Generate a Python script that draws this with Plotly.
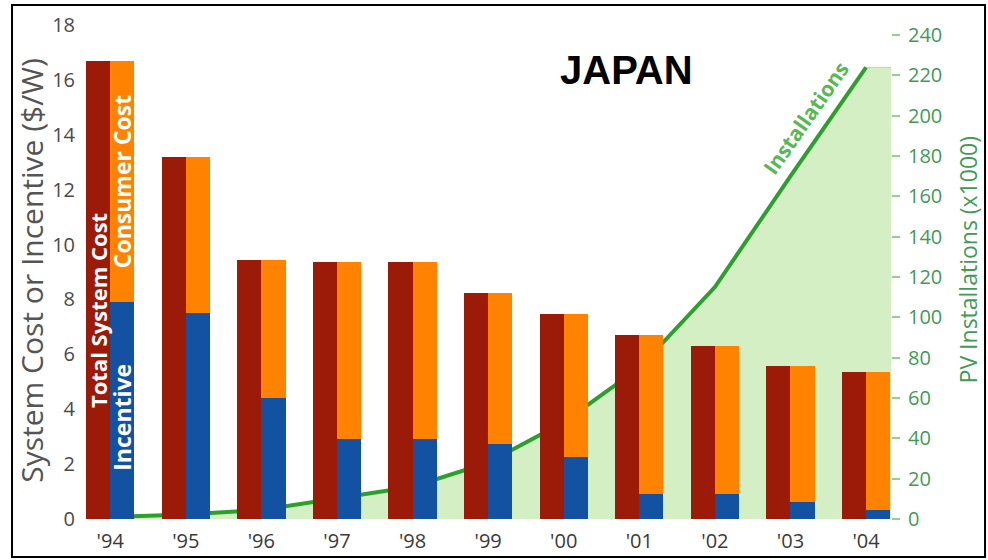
import plotly.graph_objects as go

# ---- data ----
years = ["'94", "'95", "'96", "'97", "'98", "'99", "'00", "'01", "'02", "'03", "'04"]
total_cost = [16.7, 13.2, 9.45, 9.35, 9.37, 8.22, 7.47, 6.70, 6.32, 5.56, 5.35]
incentive = [7.9, 7.5, 4.4, 2.93, 2.93, 2.72, 2.25, 0.91, 0.91, 0.62, 0.33]
installations = [1.0, 2.2, 4.5, 10, 16, 28, 48, 75, 115, 170, 224]  # x1000
left_ticks = [0, 2, 4, 6, 8, 10, 12, 14, 16, 18]
right_ticks = [0, 20, 40, 60, 80, 100, 120, 140, 160, 180, 200, 220, 240]

consumer_cost = [t - i for t, i in zip(total_cost, incentive)]
xpos = list(range(len(years)))

# ---- style ----
RED = "#9b1a08"
ORANGE = "#ff8200"
BLUE = "#1351a2"
GREEN_LINE = "#2ba12b"
GREEN_FILL = "#d3efc3"
GREEN_TEXT = "#3f9b56"
BAR_W = 0.32
X_RANGE = [-0.32, 10.33]
FONT = "Open Sans, DejaVu Sans, sans-serif"

fig = go.Figure()

# installations area (extends to right edge of the plot, flat at the last value)
fill_x = xpos + [X_RANGE[1]]
fill_y = installations + [installations[-1]]
fig.add_trace(go.Scatter(
    x=fill_x, y=fill_y, mode="lines", fill="tozeroy",
    fillcolor=GREEN_FILL, line=dict(color="#c8c8c8", width=1),
    yaxis="y", hoverinfo="skip", showlegend=False))
fig.add_trace(go.Scatter(
    x=xpos, y=installations, mode="lines",
    line=dict(color=GREEN_LINE, width=4),
    yaxis="y", showlegend=False, name="Installations"))

# bars (on the overlaying axis so they are drawn above the line)
fig.add_trace(go.Bar(
    x=xpos, y=total_cost, width=BAR_W, offset=-BAR_W,
    marker=dict(color=RED, line=dict(width=0)),
    yaxis="y2", name="Total System Cost", showlegend=False))
fig.add_trace(go.Bar(
    x=xpos, y=consumer_cost, base=incentive, width=BAR_W, offset=0,
    marker=dict(color=ORANGE, line=dict(width=0)),
    yaxis="y2", name="Consumer Cost", showlegend=False))
fig.add_trace(go.Bar(
    x=xpos, y=incentive, width=BAR_W, offset=0,
    marker=dict(color=BLUE, line=dict(width=0)),
    yaxis="y2", name="Incentive", showlegend=False))

fig.update_layout(
    width=988, height=560,
    margin=dict(l=86, r=97, t=25, b=41, autoexpand=False),
    paper_bgcolor="white", plot_bgcolor="rgba(0,0,0,0)",
    barmode="overlay", bargap=0,
    xaxis=dict(
        range=X_RANGE, tickmode="array", tickvals=xpos, ticktext=years,
        showgrid=False, zeroline=False, showline=False, ticks="",
        tickfont=dict(family=FONT, size=20, color="#3a3a3a"),
        ticklabelstandoff=8, automargin=False,
    ),
    yaxis=dict(
        side="right", range=[0, 245], tickmode="array", tickvals=right_ticks,
        showgrid=False, zeroline=False, showline=False,
        ticks="outside", ticklen=8, tickwidth=2, tickcolor="#93d193",
        tickfont=dict(family=FONT, size=20, color=GREEN_TEXT),
        ticklabelstandoff=4, automargin=False,
    ),
    yaxis2=dict(
        side="left", overlaying="y", range=[0, 18], tickmode="array", tickvals=left_ticks,
        showgrid=False, zeroline=False, showline=False, ticks="",
        tickfont=dict(family=FONT, size=20, color="#4a4a4a"), ticklabelstandoff=10,
        automargin=False,
    ),
    showlegend=False,
)

annotations = [
    dict(text="<b>JAPAN</b>", xref="paper", yref="paper", x=0.671, y=0.909,
         showarrow=False, xanchor="center", yanchor="middle",
         font=dict(family="Liberation Sans, Arial, sans-serif", size=40, color="black")),
    dict(text="System Cost or Incentive ($/W)", xref="paper", yref="paper",
         x=-0.068, y=0.503, textangle=-90, showarrow=False,
         xanchor="center", yanchor="middle",
         font=dict(family=FONT, size=30, color="#555555")),
    dict(text="PV Installations (x1000)", xref="paper", yref="paper",
         x=1.096, y=0.524, textangle=-90, showarrow=False,
         xanchor="center", yanchor="middle",
         font=dict(family=FONT, size=23, color=GREEN_TEXT)),
    dict(text="<b>Total System Cost</b>", xref="x", yref="y2",
         x=-BAR_W / 2, y=7.58, textangle=-90, showarrow=False,
         xanchor="center", yanchor="middle",
         font=dict(family=FONT, size=22, color="white")),
    dict(text="<b>Consumer Cost</b>", xref="x", yref="y2",
         x=BAR_W / 2, y=12.28, textangle=-90, showarrow=False,
         xanchor="center", yanchor="middle",
         font=dict(family=FONT, size=23, color="white")),
    dict(text="<b>Incentive</b>", xref="x", yref="y2",
         x=BAR_W / 2, y=3.7, textangle=-90, showarrow=False,
         xanchor="center", yanchor="middle",
         font=dict(family=FONT, size=23, color="white")),
    dict(text="<b>Installations</b>", xref="x", yref="y",
         x=9.2, y=199, textangle=-55, showarrow=False,
         xanchor="center", yanchor="middle",
         font=dict(family=FONT, size=21, color="#55b955")),
]
fig.update_layout(annotations=annotations)

# outer black frame
fig.add_shape(type="rect", xref="paper", yref="paper",
              x0=-0.0919, x1=1.1168, y0=-0.0769, y1=1.0405,
              line=dict(color="black", width=2), fillcolor="rgba(0,0,0,0)", layer="above")

fig.write_html("out.html")
